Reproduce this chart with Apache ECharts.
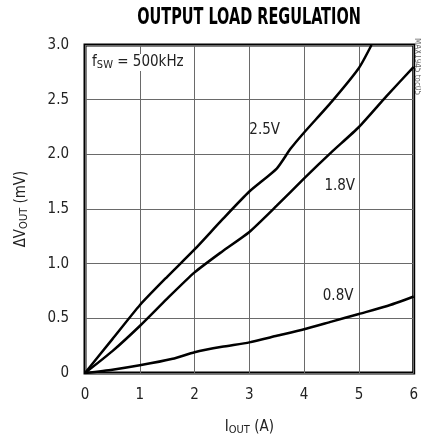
<!DOCTYPE html>
<html>
<head>
<meta charset="utf-8">
<script src="https://cdn.jsdelivr.net/npm/echarts@6/dist/echarts.min.js"></script>
<style>
  html, body { margin: 0; padding: 0; background: #fff; }
  #main { width: 421px; height: 444px; }
</style>
</head>
<body>
<div id="main"></div>
<script>
// output load regulation, dVout vs Iout at fsw = 500kHz
var FONT = "'Liberation Sans Narrow', 'DejaVu Sans Condensed', sans-serif";

var xTicks = [0, 1, 2, 3, 4, 5, 6];
var yTicks = [0, 0.5, 1.0, 1.5, 2.0, 2.5, 3.0];

// [Iout (A), dVout (mV)]
var v25 = [[0, 0], [0.5, 0.31], [1, 0.62], [1.5, 0.88], [2, 1.13], [2.5, 1.4], [3, 1.66],
           [3.5, 1.87], [3.75, 2.05], [4, 2.2], [4.5, 2.48], [5, 2.79], [5.23, 3.0]];
var v18 = [[0, 0], [0.5, 0.2], [1, 0.43], [1.5, 0.68], [2, 0.92], [2.5, 1.11], [3, 1.29],
           [3.5, 1.53], [4, 1.78], [4.5, 2.02], [5, 2.25], [5.5, 2.53], [6, 2.8]];
var v08 = [[0, 0], [0.5, 0.03], [1, 0.07], [1.6, 0.13], [2, 0.19], [2.5, 0.24], [3, 0.28],
           [3.5, 0.34], [4, 0.40], [4.5, 0.47], [5, 0.54], [5.5, 0.61], [6, 0.70]];

// curve labels: text and where they sit (data coords)
var curveLabels = [
  { text: '2.5V', at: [3.28, 2.22] },
  { text: '1.8V', at: [4.65, 1.71] },
  { text: '0.8V', at: [4.62, 0.70] }
];

var chart = echarts.init(document.getElementById('main'));

function line(data) {
  return {
    type: 'line',
    data: data,
    smooth: 0.2,
    symbol: 'none',
    lineStyle: { color: '#000', width: 2.5 },
    z: 5
  };
}

var subRich = {
  sub: { fontFamily: FONT, fontSize: 11, color: '#222', verticalAlign: 'bottom', padding: [6, 0, 0, 0] }
};

chart.setOption({
  animation: false,
  grid: {
    left: 85, right: 7, top: 45, bottom: 71,
    show: true, borderColor: '#000', borderWidth: 3
  },
  xAxis: {
    type: 'value',
    min: xTicks[0], max: xTicks[xTicks.length - 1], interval: 1,
    name: 'I{sub|OUT} (A)',
    nameLocation: 'middle',
    nameGap: 46,
    nameTextStyle: { fontFamily: FONT, fontSize: 15, color: '#222', rich: subRich },
    axisLine: { show: false },
    axisTick: { show: false },
    axisLabel: { fontFamily: FONT, fontSize: 15, color: '#222', margin: 15 },
    splitLine: { lineStyle: { color: '#6a6a6a', width: 1 } }
  },
  yAxis: {
    type: 'value',
    min: yTicks[0], max: yTicks[yTicks.length - 1], interval: 0.5,
    name: '\u0394V{sub|OUT} (mV)',
    nameLocation: 'middle',
    nameRotate: 90,
    nameGap: 55,
    nameTextStyle: { fontFamily: FONT, fontSize: 15, color: '#222', rich: subRich },
    axisLine: { show: false },
    axisTick: { show: false },
    axisLabel: {
      fontFamily: FONT, fontSize: 15, color: '#222', margin: 16,
      formatter: function (v) { return v === 0 ? '0' : v.toFixed(1); }
    },
    splitLine: { lineStyle: { color: '#6a6a6a', width: 1 } }
  },
  series: [line(v25), line(v18), line(v08)]
});

// annotations placed from data coordinates
var g = curveLabels.map(function (c) {
  var p = chart.convertToPixel({ gridIndex: 0 }, c.at);
  return {
    type: 'text', x: p[0], y: p[1], z: 10,
    style: { text: c.text, font: '15px ' + FONT, fill: '#222', align: 'center', verticalAlign: 'middle' }
  };
});
var fp = chart.convertToPixel({ gridIndex: 0 }, [0.13, 2.84]);
g.push({
  type: 'text', x: fp[0], y: fp[1], z: 10,
  style: {
    text: 'f{sub|SW} = 500kHz', font: '15px ' + FONT, fill: '#222', verticalAlign: 'middle',
    backgroundColor: '#fff',
    rich: { sub: { font: '11px ' + FONT, fill: '#222', padding: [6, 0, 0, 0] } }
  }
});
// title: condensed heavy look, squeezed horizontally
g.push({
  type: 'text', x: 249, y: 18, scaleX: 0.7, z: 10,
  style: {
    text: 'OUTPUT LOAD REGULATION', font: 'bold 23px ' + FONT, fill: '#000',
    align: 'center', verticalAlign: 'middle'
  }
});
g.push({
  type: 'text', x: 421, y: 38, rotation: -Math.PI / 2, z: 10,
  style: { text: 'MAX1945 toc05', font: '8px ' + FONT, fill: '#666' }
});
chart.setOption({ graphic: g });
</script>
</body>
</html>
